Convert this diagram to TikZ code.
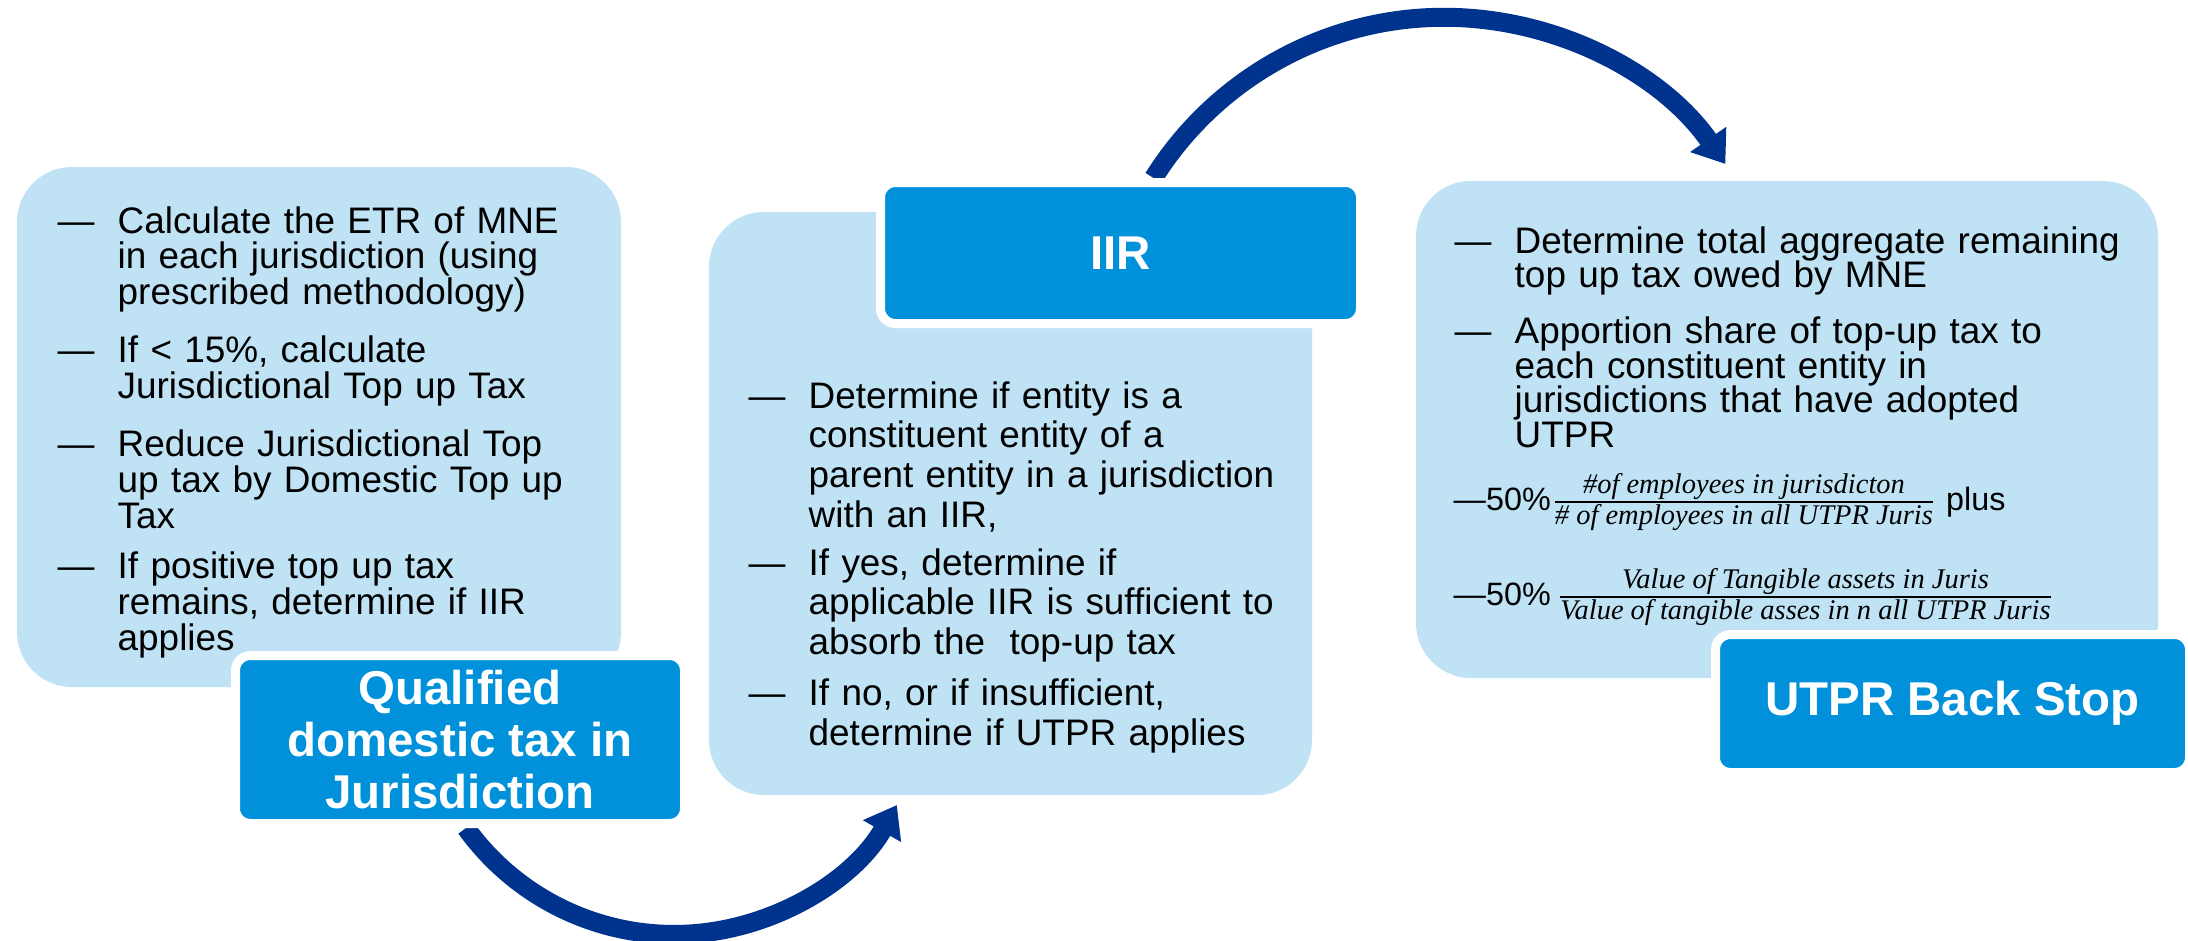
\documentclass[tikz,border=0pt]{standalone}
\usepackage{fontspec}
\setmainfont{Liberation Sans}
\newfontfamily\fracfont{Liberation Serif}
\usetikzlibrary{arrows.meta,backgrounds,positioning}

\definecolor{panelblue}{RGB}{191,227,245}
\definecolor{headblue}{RGB}{0,145,218}
\definecolor{arrowblue}{RGB}{0,51,141}

% dash bullet, the following lines hang under the first word
\newcommand{\dashitem}[2][5cm]{\noindent\makebox[0.6cm][l]{—}\parbox[t]{#1}{#2}\par}
% italic share fraction
\newcommand{\share}[2]{$\frac{\mbox{\fracfont\itshape\fontsize{8.1}{9}\selectfont #1}}{\mbox{\fracfont\itshape\fontsize{8.1}{9}\selectfont #2}}$}

\tikzset{
  panel/.style={rectangle, rounded corners=0.55cm, fill=panelblue, inner sep=0pt},
  head/.style={rectangle, rounded corners=0.15cm, fill=headblue, draw=white, line width=0.09cm,
    text=white, font=\fontsize{13.5}{14.7}\selectfont\bfseries, align=center, inner sep=0pt},
  body/.style={anchor=base west, inner sep=0pt, text width=#1},
  flow/.style={arrowblue, line width=0.19cm, -{Triangle[width=0.42cm,length=0.3cm]}},
}

\begin{document}
\begin{tikzpicture}
  \useasboundingbox (0,0) rectangle (21.88,9.40);
  \begin{scope}[on background layer]
    \fill[white] (0,0) rectangle (21.88,9.40);
    \node[panel, minimum width=6.04cm, minimum height=5.20cm] (qdmtbox) at (3.19,5.13) {};
    \node[panel, minimum width=6.03cm, minimum height=5.83cm] (iirbox) at (10.105,4.365) {};
    \node[panel, minimum width=7.42cm, minimum height=4.97cm] (utprbox) at (17.87,5.105) {};
  \end{scope}

  % headings
  \node[head, minimum width=4.49cm, minimum height=1.68cm] (qdmt) at (4.60,2.005) {Qualified\\domestic tax in\\Jurisdiction};
  \node[head, minimum width=4.80cm, minimum height=1.41cm] (iir) at (11.205,6.87) {IIR};
  \node[head, minimum width=4.74cm, minimum height=1.38cm] (utpr) at (19.525,2.365) {UTPR Back Stop};

  % steps
  \node[body=5.6cm, font=\fontsize{10.5}{10.2}\selectfont] (qdmttext) at (0.57,7.07) {%
    \setlength{\parskip}{5.7pt}\lineskiplimit=-9pt
    \dashitem{Calculate the ETR of MNE\\in each jurisdiction (using\\prescribed methodology)}
    \dashitem{If < 15\%, calculate\\Jurisdictional Top up Tax}
    \dashitem{Reduce Jurisdictional Top\\up tax by Domestic Top up\\Tax}
    \dashitem{If positive top up tax\\remains, determine if IIR\\applies}};
  \node[body=5.8cm, font=\fontsize{10.5}{11.3}\selectfont] (iirtext) at (7.48,5.32) {%
    \setlength{\parskip}{3.7pt}\lineskiplimit=-9pt
    \dashitem[5.2cm]{Determine if entity is a\\constituent entity of a\\parent entity in a jurisdiction\\with an IIR,}
    \dashitem[5.2cm]{If yes, determine if\\applicable IIR is sufficient to\\absorb the\ \ top-up tax}
    \dashitem[5.2cm]{If no, or if insufficient,\\determine if UTPR applies}};
  \node[body=7cm, font=\fontsize{10.5}{9.9}\selectfont] (utprtext) at (14.54,6.87) {%
    \setlength{\parskip}{5pt}\lineskiplimit=-9pt
    \dashitem[6.4cm]{Determine total aggregate remaining\\top up tax owed by MNE}
    \dashitem[6.4cm]{Apportion share of top-up tax to\\each constituent entity in\\jurisdictions that have adopted\\UTPR}};
  \node[anchor=base west, inner sep=0pt, font=\fontsize{9.2}{10}\selectfont] (share1) at (14.53,4.30)
    {—50\%\share{\#of employees in jurisdicton}{\# of employees in all UTPR Juris} plus};
  \node[anchor=base west, inner sep=0pt, font=\fontsize{9.2}{10}\selectfont] (share2) at (14.53,3.35)
    {—50\%\,\share{Value of Tangible assets in Juris}{Value of tangible asses in n all UTPR Juris}};

  % arcs between the stages
  \begin{scope}[on background layer]
    \draw[flow] ([xshift=0.06cm]qdmt.south) arc[start angle=215.8, end angle=330.3, radius=2.565cm];
    \draw[flow] ([xshift=0.33cm]iir.north) arc[start angle=147.9, end angle=34.9, radius=3.43cm];
  \end{scope}
\end{tikzpicture}
\end{document}
